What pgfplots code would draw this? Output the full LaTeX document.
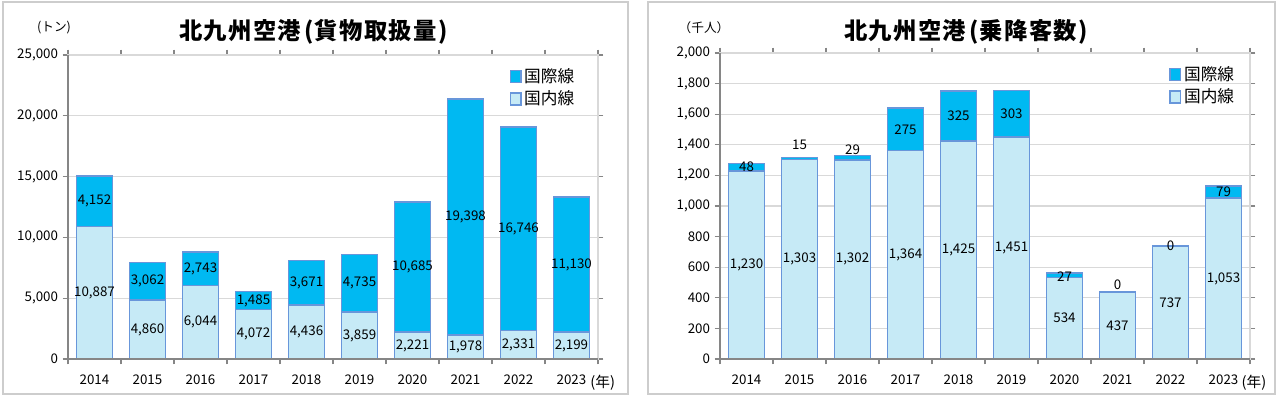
\documentclass[border=0pt]{standalone}
\usepackage{fontspec}
\setmainfont{Noto Sans CJK JP}
\usepackage{pgfplots}
\usepackage{pgfplotstable}
\pgfplotsset{compat=1.18}
\definecolor{intl}{RGB}{0,185,242}
\definecolor{dom}{RGB}{198,234,246}
\definecolor{edge}{RGB}{104,150,218}
\definecolor{gridc}{RGB}{217,217,217}
\definecolor{axisc}{RGB}{134,134,134}
\definecolor{framec}{RGB}{205,205,205}

\pgfplotstableread{
x dom intl ddy idy
0 10887 4152 0 0
1 4860 3062 0 0
2 6044 2743 0 0
3 4072 1485 0 0
4 4436 3671 0 0
5 3859 4735 0 0
6 2221 10685 0 0
7 1978 19398 0 0
8 2331 16746 0 0
9 2199 11130 0 0
}\cargo

\pgfplotstableread{
x dom intl ddy idy
0 1230 48 0 0
1 1303 15 0 10
2 1302 29 0 5.7
3 1364 275 0 0
4 1425 325 0 0
5 1451 303 0 0
6 534 27 0 -1.3
7 437 0 0 5.3
8 737 0 0 0
9 1053 79 0 0
}\pax

\pgfplotsset{
  calcoff/.code={%
    \pgfkeys{/pgf/fpu=true,/pgf/fpu/output format=fixed}%
    \pgfmathsetmacro\lbloff{\dy}%
    \pgfkeys{/pgf/fpu=false}%
  },
  kkj/.style={
    ybar stacked,
    stacked ignores zero=false,
    scale only axis,
    width=397.5pt,
    xmin=-0.5, xmax=9.5,
    ymin=0,
    bar width=27pt,
    xtick={0,1,2,3,4,5,6,7,8,9},
    xticklabels={2014,2015,2016,2017,2018,2019,2020,2021,2022,2023},
    minor xtick={-0.5,0.5,1.5,2.5,3.5,4.5,5.5,6.5,7.5,8.5,9.5},
    major x tick style={draw=none},
    minor x tick style={axisc, line width=0.8pt},
    minor tick length=4pt,
    major tick length=4pt,
    tick align=outside,
    ytick style={axisc, line width=0.8pt},
    ymajorgrids,
    major grid style={gridc, line width=0.8pt},
    axis line style={gridc, line width=0.8pt},
    scaled y ticks=false,
    /pgf/number format/.cd, fixed, precision=0, 1000 sep={,}, assume math mode=true,
    /pgfplots/.cd,
    tick label style={font=\fontsize{10}{12}\selectfont, text=black},
    xticklabel style={yshift=-4pt},
    legend style={draw=none, fill=none, anchor=north west,
      font=\fontsize{12.5}{14}\selectfont, row sep=1pt,
      /tikz/every even column/.append style={column sep=1pt}},
    reverse legend,
    after end axis/.code={
      \draw[axisc, line width=0.8pt] (rel axis cs:0,1) -- (rel axis cs:0,0) -- (rel axis cs:1,0);
    },
  },
  lbl/.style={
    nodes near coords,
    every node near coord/.append style={/pgfplots/calcoff, anchor=center, text=black,
      font=\fontsize{10}{11}\selectfont,
      yshift=\lbloff pt},
  },
}

\begin{document}
\begin{tikzpicture}
\useasboundingbox (0pt,0pt) rectangle (960pt,297.75pt);
% frames
\draw[framec, line width=0.8pt] (2.25pt,2.25pt) rectangle (471pt,296.25pt);
\draw[framec, line width=0.8pt] (486pt,2.25pt) rectangle (956.25pt,296.25pt);

\begin{axis}[kkj, at={(51pt,28.5pt)}, anchor=south west,
  height=228pt, ymax=25000,
  ytick={0,5000,10000,15000,20000,25000},
  legend style={at={(0.825,0.975)}}]
\addplot[fill=dom, draw=edge, line width=1.2pt, lbl,
  point meta=explicit,
  visualization depends on={\thisrow{ddy} \as \dy},
  legend image code/.code={\draw[fill=dom, draw=edge, line width=1pt] (0pt,-4.5pt) rectangle (8pt,4.5pt);}]
  table[x=x, y=dom, meta=dom] {\cargo};
\addlegendentry{国内線}
\addplot[fill=intl, draw=edge, line width=1.2pt, lbl,
  point meta=explicit,
  visualization depends on={\thisrow{idy} \as \dy},
  legend image code/.code={\draw[fill=intl, draw=edge, line width=1pt] (0pt,-4.5pt) rectangle (8pt,4.5pt);}]
  table[x=x, y=intl, meta=intl] {\cargo};
\addlegendentry{国際線}
\end{axis}

\begin{axis}[kkj, at={(540pt,28.5pt)}, anchor=south west,
  height=229.5pt, ymax=2000,
  ytick={0,200,400,600,800,1000,1200,1400,1600,1800,2000},
  legend style={at={(0.84,0.975)}}]
\addplot[fill=dom, draw=edge, line width=1.2pt, lbl,
  point meta=explicit,
  visualization depends on={\thisrow{ddy} \as \dy},
  legend image code/.code={\draw[fill=dom, draw=edge, line width=1pt] (0pt,-4.5pt) rectangle (8pt,4.5pt);}]
  table[x=x, y=dom, meta=dom] {\pax};
\addlegendentry{国内線}
\addplot[fill=intl, draw=edge, line width=1.2pt, lbl,
  point meta=explicit,
  visualization depends on={\thisrow{idy} \as \dy},
  legend image code/.code={\draw[fill=intl, draw=edge, line width=1pt] (0pt,-4.5pt) rectangle (8pt,4.5pt);}]
  table[x=x, y=intl, meta=intl] {\pax};
\addlegendentry{国際線}
\end{axis}

% titles and unit labels
\node[font=\bfseries\fontsize{17.5}{20}\selectfont\addfontfeature{LetterSpace=5.5}] at (235pt,273.75pt) {北九州空港\hspace{2.5pt}(貨物取扱量)};
\node[font=\bfseries\fontsize{17.5}{20}\selectfont\addfontfeature{LetterSpace=5.5}] at (724.5pt,273.75pt) {北九州空港\hspace{2.5pt}(乗降客数)};
\node[font=\fontsize{9.5}{10}\selectfont] at (40.5pt,276.75pt) {(トン)};
\node[font=\fontsize{9.5}{10}\selectfont] at (528pt,276.75pt) {（千人）};
\node[font=\fontsize{11}{12}\selectfont] at (452pt,10.5pt) {(年)};
\node[font=\fontsize{11}{12}\selectfont] at (940.5pt,10.5pt) {(年)};
\end{tikzpicture}
\end{document}
